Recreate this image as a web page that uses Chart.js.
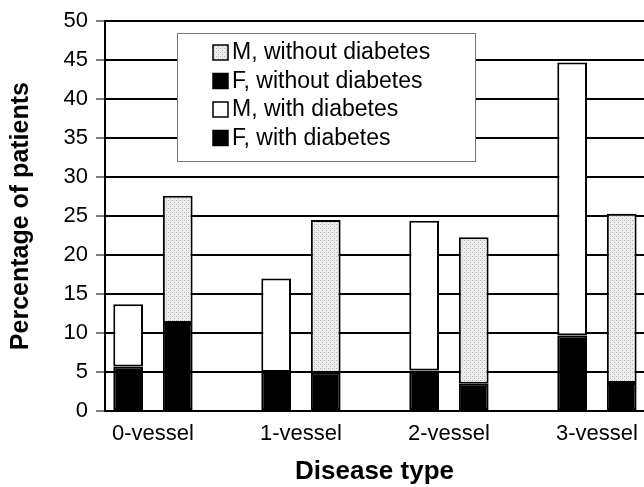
<!DOCTYPE html>
<html>
<head>
<meta charset="utf-8">
<script src="https://cdn.jsdelivr.net/npm/chart.js@4"></script>
<style>
  html, body { margin: 0; padding: 0; background: #fff; overflow: hidden; }
  #wrap { width: 644px; height: 487px; }
</style>
</head>
<body>
<div id="wrap"><canvas id="grafico"></canvas></div>
<script>
const categorias = ['0-vessel', '1-vessel', '2-vessel', '3-vessel'];
const fComDiabetes = [5.7, 5.0, 5.2, 9.7];
const mComDiabetes = [8.0, 12.0, 19.2, 35.0];
const fSemDiabetes = [11.3, 4.9, 3.5, 3.6];
const mSemDiabetes = [16.3, 19.6, 18.8, 21.7];
const ticksY = [0, 5, 10, 15, 20, 25, 30, 35, 40, 45, 50];

const fonte = 'Liberation Sans, Arial, Helvetica, sans-serif';

// light stipple fill for "M, without diabetes"
function pontilhado() {
  const c = document.createElement('canvas');
  c.width = 4; c.height = 4;
  const g = c.getContext('2d');
  g.fillStyle = '#eeeeee';
  g.fillRect(0, 0, 4, 4);
  g.fillStyle = '#b4b4b4';
  g.fillRect(0, 0, 1, 1);
  g.fillRect(2, 2, 1, 1);
  g.fillStyle = '#d0d0d0';
  g.fillRect(2, 0, 1, 1);
  return g.createPattern(c, 'repeat');
}
const cinza = pontilhado();

function pontos(valores) {
  return valores.map((v, i) => ({ x: i, y: v }));
}

function serie(label, valores, stack, cor) {
  return {
    label: label,
    data: pontos(valores),
    stack: stack,
    backgroundColor: cor,
    borderColor: '#000',
    borderWidth: 2,
    borderSkipped: false,
    categoryPercentage: 0.67,
    barPercentage: 0.6
  };
}

// legend drawn inside the plot, in the reference order
const legendaBox = {
  id: 'legendaBox',
  afterDraw(chart) {
    const ctx = chart.ctx;
    const ordem = [3, 2, 1, 0];
    const x0 = 177, y0 = 33, w = 298, h = 128;
    ctx.save();
    ctx.fillStyle = '#fff';
    ctx.fillRect(x0, y0, w, h);
    ctx.strokeStyle = '#777';
    ctx.lineWidth = 1;
    ctx.strokeRect(x0 + 0.5, y0 + 0.5, w, h);
    ctx.font = '23px ' + fonte;
    ctx.textBaseline = 'middle';
    ordem.forEach((idx, k) => {
      const ds = chart.data.datasets[idx];
      const cy = 52 + k * 28.5;
      ctx.fillStyle = ds.backgroundColor;
      ctx.fillRect(213, cy - 7, 15, 15);
      ctx.strokeStyle = '#000';
      ctx.lineWidth = 1.5;
      ctx.strokeRect(213, cy - 7, 15, 15);
      ctx.fillStyle = '#000';
      ctx.fillText(ds.label, 232, cy + 1);
    });
    ctx.restore();
  }
};

const ctx = document.getElementById('grafico');

new Chart(ctx, {
  type: 'bar',
  data: {
    datasets: [
      serie('F, with diabetes', fComDiabetes, 'com', '#000'),
      serie('M, with diabetes', mComDiabetes, 'com', '#fff'),
      serie('F, without diabetes', fSemDiabetes, 'sem', '#000'),
      serie('M, without diabetes', mSemDiabetes, 'sem', cinza)
    ]
  },
  options: {
    responsive: true,
    maintainAspectRatio: false,
    animation: false,
    layout: { padding: { top: 18, right: 0, left: 0, bottom: 0 } },
    plugins: {
      legend: { display: false },
      tooltip: { enabled: false }
    },
    scales: {
      x: {
        type: 'linear',
        min: -0.324,
        max: 3.318,
        stacked: true,
        offset: false,
        afterBuildTicks(scale) {
          scale.ticks = categorias.map((c, i) => ({ value: i }));
        },
        afterFit(scale) { scale.height = 76; },
        grid: { display: false },
        border: { display: true, color: '#000', width: 2 },
        ticks: {
          color: '#000',
          font: { family: fonte, size: 22 },
          padding: 2,
          maxRotation: 0,
          autoSkip: false,
          callback: (v) => categorias[v]
        },
        title: {
          display: true,
          text: 'Disease type',
          color: '#000',
          font: { family: fonte, size: 26, weight: 'bold' },
          padding: { top: 8, bottom: 0 }
        }
      },
      y: {
        min: 0,
        max: 50,
        stacked: true,
        afterBuildTicks(scale) {
          scale.ticks = ticksY.map(v => ({ value: v }));
        },
        afterFit(scale) { scale.width = 105; },
        grid: {
          color: '#000',
          lineWidth: 2,
          drawTicks: true,
          tickLength: 9,
          tickColor: '#000',
          tickWidth: 1
        },
        border: { display: true, color: '#000', width: 2 },
        ticks: {
          color: '#000',
          font: { family: fonte, size: 22 },
          padding: 8
        },
        title: {
          display: true,
          text: 'Percentage of patients',
          color: '#000',
          font: { family: fonte, size: 25, weight: 'bold' },
          padding: { top: 6, bottom: 0 }
        }
      }
    }
  },
  plugins: [legendaBox]
});
</script>
</body>
</html>
